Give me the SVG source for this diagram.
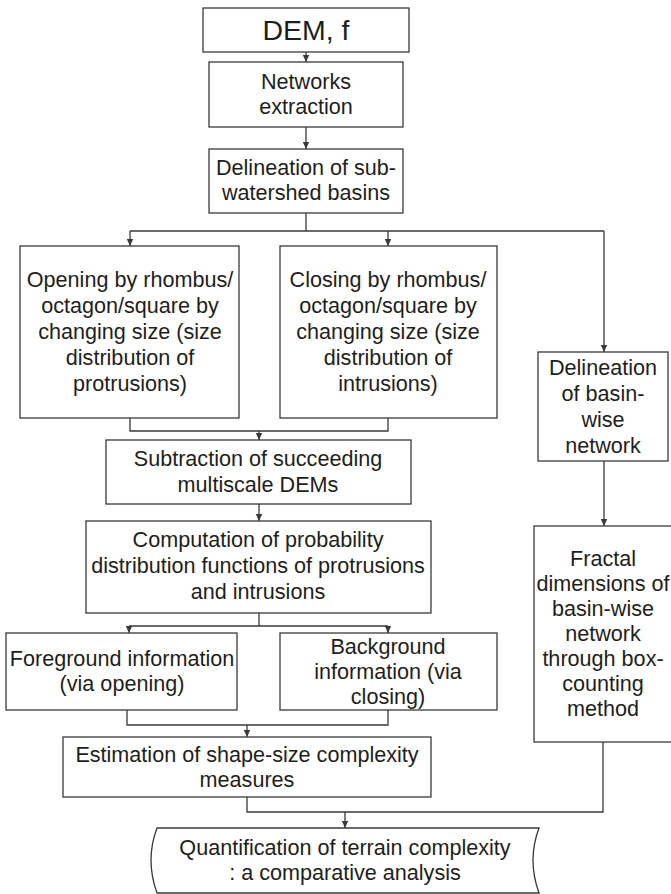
<svg xmlns="http://www.w3.org/2000/svg" width="671" height="894" viewBox="0 0 671 894">
<defs>
<style>
.box{fill:#fff;stroke:#3a3a3a;stroke-width:1.3}
.t{font-family:"Liberation Sans",Arial,sans-serif;font-size:21.6px;fill:#1e1e1e;text-anchor:middle}
.big{font-size:28.5px}
.c{fill:none;stroke:#3a3a3a;stroke-width:1.3}
</style>
<marker id="ah" markerWidth="8" markerHeight="8" refX="7" refY="4" orient="auto" markerUnits="userSpaceOnUse">
<path d="M0,0.8 L7,4 L0,7.2 Z" fill="#3a3a3a"/>
</marker>
</defs>
<rect width="671" height="894" fill="#fff"/>
<g id="connectors">
<path class="c" d="M306,52 V62" marker-end="url(#ah)"/>
<path class="c" d="M306,127 V149" marker-end="url(#ah)"/>
<path class="c" d="M306,213 V231 M130,231 H604"/>
<path class="c" d="M130,231 V246" marker-end="url(#ah)"/>
<path class="c" d="M388,231 V246" marker-end="url(#ah)"/>
<path class="c" d="M604,231 V352" marker-end="url(#ah)"/>
<path class="c" d="M130,418 V431 H388 V418"/>
<path class="c" d="M259,431 V440" marker-end="url(#ah)"/>
<path class="c" d="M259,504 V521" marker-end="url(#ah)"/>
<path class="c" d="M259,613 V626 M129,626 H388"/>
<path class="c" d="M129,626 V633" marker-end="url(#ah)"/>
<path class="c" d="M388,626 V633" marker-end="url(#ah)"/>
<path class="c" d="M604,461 V526" marker-end="url(#ah)"/>
<path class="c" d="M127,710 V725 H388 V710"/>
<path class="c" d="M247,725 V737" marker-end="url(#ah)"/>
<path class="c" d="M247,797 V812 H603 V742"/>
<path class="c" d="M345,812 V828" marker-end="url(#ah)"/>
</g>
<g id="n1"><rect class="box" x="203" y="8" width="206" height="44"/><text class="t big" x="306" y="40">DEM, f</text></g>
<g id="n2"><rect class="box" x="209" y="62" width="194" height="65"/><text class="t" x="306" y="89">Networks</text><text class="t" x="306" y="114">extraction</text></g>
<g id="n3"><rect class="box" x="209" y="149" width="194" height="64"/><text class="t" x="306" y="175">Delineation of sub-</text><text class="t" x="306" y="200">watershed basins</text></g>
<g id="n4"><rect class="box" x="20" y="246" width="219" height="172"/><text class="t" x="130" y="287">Opening by rhombus/</text><text class="t" x="130" y="313">octagon/square by</text><text class="t" x="130" y="339">changing size (size</text><text class="t" x="130" y="365">distribution of</text><text class="t" x="130" y="391">protrusions)</text></g>
<g id="n5"><rect class="box" x="280" y="246" width="217" height="172"/><text class="t" x="388" y="287">Closing by rhombus/</text><text class="t" x="388" y="313">octagon/square by</text><text class="t" x="388" y="339">changing size (size</text><text class="t" x="388" y="365">distribution of</text><text class="t" x="388" y="391">intrusions)</text></g>
<g id="n6"><rect class="box" x="538" y="352" width="130" height="109"/><text class="t" x="603" y="375">Delineation</text><text class="t" x="603" y="401">of basin-</text><text class="t" x="603" y="427">wise</text><text class="t" x="603" y="453">network</text></g>
<g id="n7"><rect class="box" x="106" y="440" width="305" height="64"/><text class="t" x="258" y="466">Subtraction of succeeding</text><text class="t" x="258" y="492">multiscale DEMs</text></g>
<g id="n8"><rect class="box" x="86" y="521" width="345" height="92"/><text class="t" x="258" y="547">Computation of probability</text><text class="t" x="258" y="573">distribution functions of protrusions</text><text class="t" x="258" y="599">and intrusions</text></g>
<g id="n9"><rect class="box" x="6" y="633" width="231" height="77"/><text class="t" x="122" y="666">Foreground information</text><text class="t" x="122" y="691">(via opening)</text></g>
<g id="n10"><rect class="box" x="280" y="633" width="217" height="77"/><text class="t" x="388" y="654">Background</text><text class="t" x="388" y="679">information (via</text><text class="t" x="388" y="704">closing)</text></g>
<g id="n11"><rect class="box" x="534" y="526" width="138" height="216"/><text class="t" x="603" y="566">Fractal</text><text class="t" x="603" y="591">dimensions of</text><text class="t" x="603" y="616">basin-wise</text><text class="t" x="603" y="641">network</text><text class="t" x="603" y="666">through box-</text><text class="t" x="603" y="691">counting</text><text class="t" x="603" y="716">method</text></g>
<g id="n12"><rect class="box" x="63" y="737" width="368" height="60"/><text class="t" x="247" y="762">Estimation of shape-size complexity</text><text class="t" x="247" y="787">measures</text></g>
<g id="n13"><path class="box" d="M157,828 H539 Q527,860 539,893 H157 Q145,860 157,828 Z"/><text class="t" x="345" y="855">Quantification of terrain complexity</text><text class="t" x="345" y="880">: a comparative analysis</text></g>
</svg>
